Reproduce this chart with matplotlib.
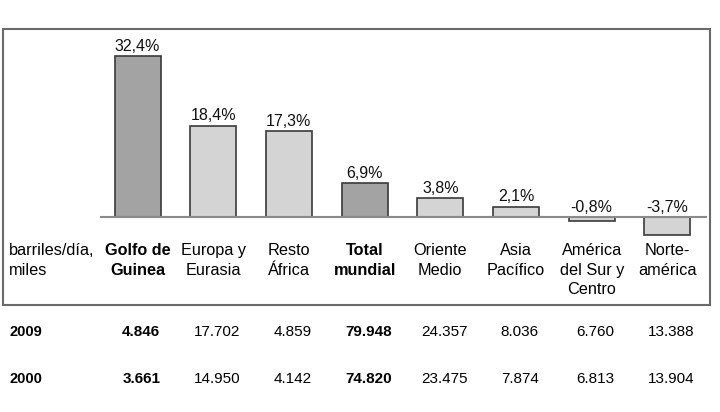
import matplotlib
matplotlib.use("Agg")
import matplotlib.pyplot as plt
from matplotlib import font_manager
from matplotlib.transforms import blended_transform_factory
from matplotlib.patches import Rectangle

# data
categories = ["Golfo de\nGuinea", "Europa y\nEurasia", "Resto\nÁfrica", "Total\nmundial",
              "Oriente\nMedio", "Asia\nPacífico", "América\ndel Sur y\nCentro", "Norte-\namérica"]
growth = [32.4, 18.4, 17.3, 6.9, 3.8, 2.1, -0.8, -3.7]
growth_labels = ["32,4%", "18,4%", "17,3%", "6,9%", "3,8%", "2,1%", "-0,8%", "-3,7%"]
highlight = [True, False, False, True, False, False, False, False]
prod_2009 = ["4.846", "17.702", "4.859", "79.948", "24.357", "8.036", "6.760", "13.388"]
prod_2000 = ["3.661", "14.950", "4.142", "74.820", "23.475", "7.874", "6.813", "13.904"]
unit_label = "barriles/día,\nmiles"

names = {f.name for f in font_manager.fontManager.ttflist}
main_font = "Liberation Sans" if "Liberation Sans" in names else "DejaVu Sans"
plt.rcParams["font.family"] = main_font

W, H = 720, 412
fig = plt.figure(figsize=(W / 100, H / 100), dpi=100)

def fy(py):
    return 1 - py / H

# bar axes placed in pixel terms
x0, x1, ytop, ybot = 100, 707, 40, 240
ax = fig.add_axes([x0 / W, fy(ybot), (x1 - x0) / W, (ybot - ytop) / H])
step, px_per = 75.7, 4.97
ax.set_xlim(-37.5 / step, (x1 - 137.5) / step)
ax.set_ylim(-(ybot - 217) / px_per, (217 - ytop) / px_per)
ax.axis("off")

xs = list(range(len(categories)))
colors = ["#a3a3a3" if h else "#d4d4d4" for h in highlight]
ax.bar(xs, growth, width=46 / step, color=colors, edgecolor="#3a3a3a", linewidth=1.2, zorder=2)
ax.axhline(0, color="#8a8a8a", linewidth=1.5, zorder=3)

for x, v, lab in zip(xs, growth, growth_labels):
    ax.annotate(lab, (x, max(v, 0)), xytext=(0, 1.5), textcoords="offset points",
                ha="center", va="bottom", fontsize=11.5, color="#111111")

trans = blended_transform_factory(ax.transData, fig.transFigure)
for x, c, h in zip(xs, categories, highlight):
    ax.text(x, fy(243), c, transform=trans, ha="center", va="top", fontsize=11.7,
            fontweight="bold" if h else "normal", linespacing=1.38, clip_on=False)
fig.text(9 / W, fy(243), unit_label, ha="left", va="top", fontsize=11.7, linespacing=1.38)

# table rows
for year, row, py in [("2009", prod_2009, 332), ("2000", prod_2000, 379)]:
    fig.text(10 / W, fy(py), year, ha="left", va="center", fontsize=10.5, fontweight="bold")
    for x, val, h in zip(xs, row, highlight):
        ax.text(x + 0.05, fy(py), val, transform=trans, ha="center", va="center",
                fontsize=11, fontweight="bold" if h else "normal", clip_on=False)

fig.patches.append(Rectangle((3 / W, fy(305)), 707 / W, 276 / H, transform=fig.transFigure,
                             fill=False, edgecolor="#6a6a6a", linewidth=1.5))

fig.savefig("out.png", dpi=100, facecolor="white")
